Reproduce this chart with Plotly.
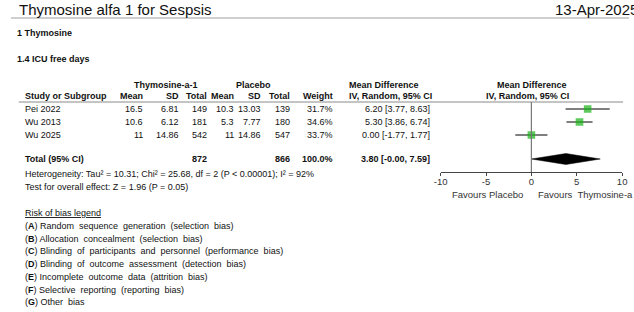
import plotly.graph_objects as go

W, H = 634, 312

# ---------------- data ----------------
title = "Thymosine alfa 1 for Sespsis"
date_text = "13-Apr-2025"
comparison = "1 Thymosine"
outcome = "1.4 ICU free days"
exp_label = "Thymosine-a-1"
ctl_label = "Placebo"

studies = ["Pei 2022", "Wu 2013", "Wu 2025"]
exp_mean = [16.5, 10.6, 11]
exp_sd = [6.81, 6.12, 14.86]
exp_n = [149, 181, 542]
ctl_mean = [10.3, 5.3, 11]
ctl_sd = [13.03, 7.77, 14.86]
ctl_n = [139, 180, 547]
weights = [31.7, 34.6, 33.7]
md = [6.20, 5.30, 0.00]
ci_lo = [3.77, 3.86, -1.77]
ci_hi = [8.63, 6.74, 1.77]

total_exp_n = 872
total_ctl_n = 866
total_weight = 100.0
total_md = 3.80
total_lo = -0.00
total_hi = 7.59

heterogeneity = "Heterogeneity: Tau² = 10.31; Chi² = 25.68, df = 2 (P < 0.00001); I² = 92%"
overall = "Test for overall effect: Z = 1.96 (P = 0.05)"

axis_ticks = [-10, -5, 0, 5, 10]
favours_left = "Favours Placebo"
favours_right = "Favours  Thymosine-a"

bias_letters = ["A", "B", "C", "D", "E", "F", "G"]
bias_items = [
    "Random sequence generation (selection bias)",
    "Allocation concealment (selection bias)",
    "Blinding of participants and personnel (performance bias)",
    "Blinding of outcome assessment (detection bias)",
    "Incomplete outcome data (attrition bias)",
    "Selective reporting (reporting bias)",
    "Other bias",
]

# ---------------- layout helpers ----------------
FONT = "Liberation Sans, Arial, sans-serif"
TXT = "#111111"
row_y = [109 + 13 * i for i in range(len(studies))]
total_y = 159

fig = go.Figure()
annotations = []
shapes = []


def ann(text, px, py, anchor="left", size=9, bold=False, color=TXT):
    if bold:
        text = "<b>" + text + "</b>"
    annotations.append(dict(
        text=text, x=px / W, y=py, xref="paper", yref="y",
        xanchor=anchor, yanchor="middle", showarrow=False,
        font=dict(family=FONT, size=size, color=color),
    ))


# column right edges
c_em, c_esd, c_en, c_cm, c_csd, c_cn, c_w, c_md = 141, 177, 206, 233, 261, 291, 334, 433

# title and date
ann(title, 10, 9, size=15)
ann(date_text, 557, 9, size=15)
shapes.append(dict(type="line", xref="paper", yref="y", x0=4 / W, x1=1, y0=18, y1=18,
                   line=dict(color="#cfcfcf", width=2)))
ann(comparison, 8, 33, size=9, bold=True)
ann(outcome, 8, 59, size=9, bold=True)

# headers
ann(exp_label, 162, 85, anchor="center", size=9, bold=True)
ann(ctl_label, 251, 85, anchor="center", size=9, bold=True)
ann("Mean Difference", 347, 85, size=9, bold=True)
ann("Mean Difference", 535, 85, anchor="center", size=9, bold=True)
ann("Study or Subgroup", 16, 96, size=9, bold=True)
for lbl, px in [("Mean", c_em), ("SD", c_esd), ("Total", c_en), ("Mean", c_cm),
                ("SD", c_csd), ("Total", c_cn), ("Weight", c_w)]:
    ann(lbl, px, 96, anchor="right", size=9, bold=True)
ann("IV, Random, 95% CI", 347, 96, size=9, bold=True)
ann("IV, Random, 95% CI", 531, 96, anchor="center", size=9, bold=True)
shapes.append(dict(type="line", xref="paper", yref="y", x0=12 / W, x1=628 / W, y0=102, y1=102,
                   line=dict(color="#8a8a8a", width=1)))

# study rows
for i, s in enumerate(studies):
    y = row_y[i]
    ann(s, 16, y)
    ann(f"{exp_mean[i]:g}", c_em, y, anchor="right")
    ann(f"{exp_sd[i]:g}", c_esd, y, anchor="right")
    ann(f"{exp_n[i]}", c_en, y, anchor="right")
    ann(f"{ctl_mean[i]:g}", c_cm, y, anchor="right")
    ann(f"{ctl_sd[i]:g}", c_csd, y, anchor="right")
    ann(f"{ctl_n[i]}", c_cn, y, anchor="right")
    ann(f"{weights[i]:.1f}%", c_w, y, anchor="right")
    ann(f"{md[i]:.2f} [{ci_lo[i]:.2f}, {ci_hi[i]:.2f}]", c_md, y, anchor="right")

# total row
ann("Total (95% CI)", 16, total_y, bold=True)
ann(f"{total_exp_n}", c_en, total_y, anchor="right", bold=True)
ann(f"{total_ctl_n}", c_cn, total_y, anchor="right", bold=True)
ann(f"{total_weight:.1f}%", c_w, total_y, anchor="right", bold=True)
ann(f"{total_md:.2f} [{total_lo:.2f}, {total_hi:.2f}]", c_md, total_y, anchor="right", bold=True)
ann(heterogeneity, 16, 174)
ann(overall, 16, 187)

# risk of bias legend
ann("<u>Risk of bias legend</u>", 16, 213)
for k, (L, item) in enumerate(zip(bias_letters, bias_items)):
    ann(f"(<b>{L}</b>) " + item.replace(" ", "  "), 16, 226 + 12.7 * k)

# favours labels
ann(favours_left, 528, 194, anchor="right", size=9.5, color="#333333")
ann(favours_right, 539, 194, size=9.5, color="#333333")

# ---------------- forest plot ----------------
for i in range(len(studies)):
    fig.add_trace(go.Scatter(x=[ci_lo[i], ci_hi[i]], y=[row_y[i], row_y[i]], mode="lines",
                             line=dict(color="#555555", width=1.3), hoverinfo="skip",
                             showlegend=False))
fig.add_trace(go.Scatter(x=md, y=row_y, mode="markers",
                         marker=dict(symbol="square", size=[6.5 + w / 30 for w in weights],
                                     color="#19b419", line=dict(width=0)),
                         showlegend=False))
fig.add_trace(go.Scatter(x=[total_lo, total_md, total_hi, total_md, total_lo],
                         y=[total_y, total_y - 5.5, total_y, total_y + 5.5, total_y],
                         mode="lines", fill="toself", fillcolor="black",
                         line=dict(color="black", width=0.5), showlegend=False))
shapes.append(dict(type="line", xref="x", yref="y", x0=0, x1=0, y0=102, y1=172,
                   line=dict(color="#777777", width=1.2)))

axis_pos = 1 - 172 / H
dom = [442 / W, 627 / W]
fig.update_layout(
    width=W, height=H, margin=dict(l=0, r=0, t=0, b=0),
    paper_bgcolor="white", plot_bgcolor="rgba(0,0,0,0)",
    showlegend=False,
    xaxis=dict(domain=dom, range=[-10, 10], anchor="free", position=axis_pos,
               tickvals=axis_ticks, ticktext=[str(t) for t in axis_ticks],
               ticks="outside", ticklen=3, tickcolor="#444444", tickwidth=1,
               showline=True, linecolor="#444444", linewidth=1,
               showgrid=False, zeroline=False, ticklabelstandoff=-2,
               tickfont=dict(family=FONT, size=9.5, color="#333333")),
    xaxis2=dict(domain=dom, range=[-10, 10], anchor="free", position=axis_pos,
                overlaying="x", tickvals=axis_ticks, ticks="inside", ticklen=3,
                tickcolor="#444444", showticklabels=False, showline=False,
                showgrid=False, zeroline=False),
    yaxis=dict(domain=[0, 1], range=[H, 0], visible=False, showgrid=False, zeroline=False),
    annotations=annotations, shapes=shapes,
)

fig.write_html("out.html")
